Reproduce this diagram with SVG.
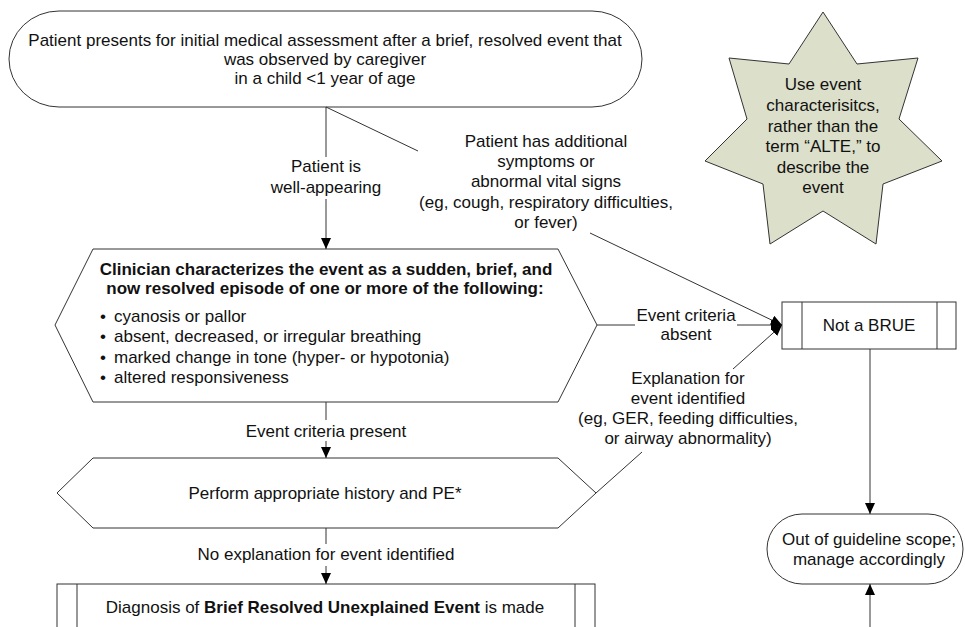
<svg xmlns="http://www.w3.org/2000/svg" width="965" height="627" viewBox="0 0 965 627">
<defs>
<marker id="arr" markerUnits="userSpaceOnUse" markerWidth="11" markerHeight="10" refX="11" refY="5" orient="auto">
<path d="M0,0 L11,5 L0,10 z" fill="#000"/>
</marker>
<style>
.shape{fill:#fff;stroke:#333;stroke-width:1}
.star{fill:#dcdfca;stroke:#333;stroke-width:1}
.t{font-family:"Liberation Sans",Arial,sans-serif;font-size:17px;fill:#111}
.c{text-anchor:middle}
.b{font-weight:bold}
.ln{stroke:#333;stroke-width:1;fill:none}
.ar{stroke:#333;stroke-width:1;fill:none;marker-end:url(#arr)}
</style>
</defs>
<rect width="965" height="627" fill="#fff"/>

<g id="start">
<rect class="shape" x="9" y="11" width="633" height="96" rx="50" ry="48"/>
<text class="t c" x="325" y="46">Patient presents for initial medical assessment after a brief, resolved event that</text>
<text class="t c" x="325" y="65">was observed by caregiver</text>
<text class="t c" x="325" y="84">in a child &lt;1 year of age</text>
</g>

<g id="note">
<polygon class="star" points="823,12 857,64 918,58 899,119 942,161 883,184 876,244 823,211 770,244 763,184 705,161 747,119 729,58 789,64"/>
<text class="t c" x="823" y="90">Use event</text>
<text class="t c" x="823" y="111">characterisitcs,</text>
<text class="t c" x="823" y="132">rather than the</text>
<text class="t c" x="823" y="152">term “ALTE,” to</text>
<text class="t c" x="823" y="173">describe the</text>
<text class="t c" x="823" y="193">event</text>
</g>

<g id="characterize">
<polygon class="shape" points="93,249 558,249 597,325 558,402 93,402 55,325"/>
<text class="t c b" x="326" y="275">Clinician characterizes the event as a sudden, brief, and</text>
<text class="t c b" x="325" y="294">now resolved episode of one or more of the following:</text>
<text class="t" x="100" y="322">•</text><text class="t" x="114" y="322">cyanosis or pallor</text>
<text class="t" x="100" y="342">•</text><text class="t" x="114" y="342">absent, decreased, or irregular breathing</text>
<text class="t" x="100" y="363">•</text><text class="t" x="114" y="363">marked change in tone (hyper- or hypotonia)</text>
<text class="t" x="100" y="383">•</text><text class="t" x="114" y="383">altered responsiveness</text>
</g>

<g id="history">
<polygon class="shape" points="93,458 558,458 596,493 558,528 93,528 57,493"/>
<text class="t c" x="325" y="499">Perform appropriate history and PE*</text>
</g>

<g id="diagnosis">
<rect class="shape" x="57" y="584" width="538" height="80"/>
<line class="ln" x1="77" y1="584" x2="77" y2="664"/>
<line class="ln" x1="575" y1="584" x2="575" y2="664"/>
<text class="t c" x="325" y="613">Diagnosis of <tspan class="b">Brief Resolved Unexplained Event</tspan> is made</text>
</g>

<g id="notbrue">
<rect class="shape" x="782" y="302" width="174" height="47"/>
<line class="ln" x1="802" y1="302" x2="802" y2="349"/>
<line class="ln" x1="937" y1="302" x2="937" y2="349"/>
<text class="t c" x="869" y="331">Not a BRUE</text>
</g>

<g id="outofscope">
<rect class="shape" x="767" y="514" width="196" height="70" rx="35" ry="35"/>
<text class="t c" x="869" y="545">Out of guideline scope;</text>
<text class="t c" x="869" y="565">manage accordingly</text>
</g>

<g id="connectors">
<line class="ln" x1="326" y1="107" x2="326" y2="157"/>
<line class="ar" x1="326" y1="199" x2="326" y2="249"/>
<line class="ln" x1="326" y1="107" x2="418" y2="151"/>
<line class="ar" x1="590" y1="233" x2="782" y2="325"/>
<line class="ln" x1="597" y1="325" x2="635" y2="325"/>
<line class="ar" x1="737" y1="325" x2="782" y2="325"/>
<line class="ln" x1="326" y1="402" x2="326" y2="420"/>
<line class="ar" x1="326" y1="441" x2="326" y2="458"/>
<line class="ln" x1="596" y1="493" x2="642" y2="452"/>
<line class="ar" x1="733" y1="369" x2="782" y2="325"/>
<line class="ln" x1="326" y1="528" x2="326" y2="544"/>
<line class="ar" x1="326" y1="566" x2="326" y2="584"/>
<line class="ar" x1="870" y1="349" x2="870" y2="514"/>
<line class="ar" x1="870" y1="627" x2="870" y2="584"/>
</g>

<g id="labels">
<text class="t c" x="326" y="172">Patient is</text>
<text class="t c" x="326" y="193">well-appearing</text>
<text class="t c" x="546" y="147">Patient has additional</text>
<text class="t c" x="546" y="167">symptoms or</text>
<text class="t c" x="546" y="187">abnormal vital signs</text>
<text class="t c" x="546" y="208">(eg, cough, respiratory difficulties,</text>
<text class="t c" x="546" y="228">or fever)</text>
<text class="t c" x="686" y="321">Event criteria</text>
<text class="t c" x="686" y="340">absent</text>
<text class="t c" x="688" y="384">Explanation for</text>
<text class="t c" x="688" y="404">event identified</text>
<text class="t c" x="688" y="424">(eg, GER, feeding difficulties,</text>
<text class="t c" x="688" y="444">or airway abnormality)</text>
<text class="t c" x="326" y="437">Event criteria present</text>
<text class="t c" x="326" y="560">No explanation for event identified</text>
</g>
</svg>
